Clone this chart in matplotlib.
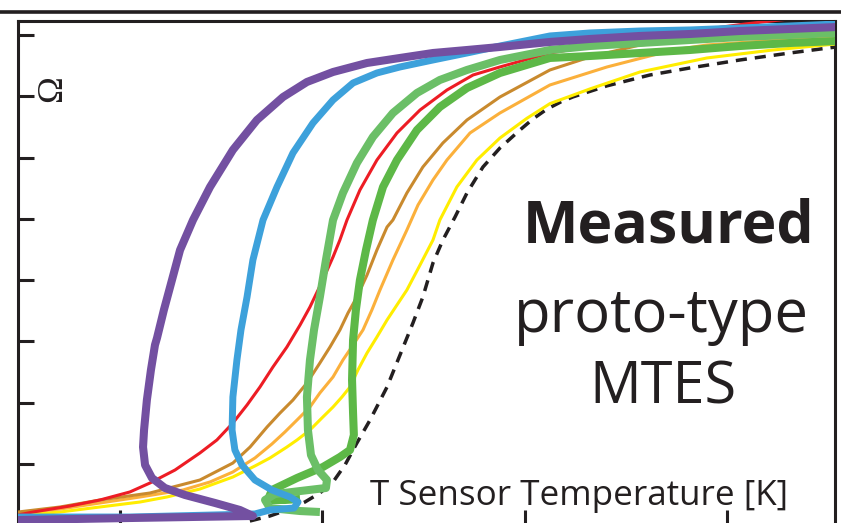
import matplotlib
matplotlib.use("Agg")
import matplotlib.pyplot as plt
from matplotlib.lines import Line2D

# ---- data (arbitrary units: x ticks at 1..4, y ticks at 0..7) ----
x_ticks = [1, 2, 3, 4]
y_ticks = [0, 1, 2, 3, 4, 5, 6, 7]

dash_x = [1.642, 1.741, 1.840, 1.914, 1.988, 2.053, 2.112, 2.171, 2.236, 2.320, 2.384, 2.448, 2.497, 2.547,
          2.596, 2.656, 2.715, 2.794, 2.878, 2.977, 3.041, 3.110, 3.180, 3.239, 3.407, 3.619, 3.817, 4.064,
          4.311, 4.539]
dash_y = [-0.930, -0.848, -0.734, -0.620, -0.473, -0.293, -0.016, 0.343, 0.718, 1.257, 1.779, 2.301, 2.725, 3.280,
          3.655, 4.030, 4.422, 4.846, 5.156, 5.450, 5.630, 5.790, 5.910, 5.990, 6.170, 6.347, 6.462, 6.592,
          6.706, 6.804]

yellow_x = [0.496, 0.704, 0.901, 1.099, 1.232, 1.395, 1.558, 1.667, 1.741, 1.825, 1.875, 1.939, 1.998, 2.053,
            2.097, 2.137, 2.176, 2.221, 2.270, 2.320, 2.369, 2.418, 2.483, 2.547, 2.581, 2.665, 2.764, 2.878,
            3.011, 3.125, 3.323, 3.570, 3.901, 4.227, 4.539]
yellow_y = [-0.832, -0.783, -0.701, -0.620, -0.538, -0.408, -0.212, -0.032, 0.098, 0.277, 0.392, 0.555, 0.751, 0.930,
            1.093, 1.257, 1.534, 1.811, 2.073, 2.350, 2.595, 2.839, 3.247, 3.655, 3.981, 4.520, 4.960, 5.319,
            5.640, 5.880, 6.120, 6.396, 6.625, 6.755, 6.853]

orange_x = [0.496, 0.704, 0.901, 1.099, 1.311, 1.445, 1.558, 1.667, 1.751, 1.815, 1.875, 1.939, 1.988, 2.053,
            2.102, 2.152, 2.201, 2.245, 2.285, 2.349, 2.418, 2.473, 2.547, 2.616, 2.730, 2.878, 3.125, 3.407,
            3.733, 3.901, 4.539]
orange_y = [-0.799, -0.734, -0.636, -0.538, -0.424, -0.293, -0.130, 0.098, 0.327, 0.522, 0.718, 0.930, 1.159, 1.420,
            1.697, 1.942, 2.187, 2.513, 2.839, 3.329, 3.818, 4.226, 4.634, 4.960, 5.401, 5.727, 6.184, 6.478,
            6.755, 6.837, 6.984]

brown_x = [0.496, 0.704, 0.901, 1.148, 1.395, 1.558, 1.643, 1.727, 1.791, 1.855, 1.924, 1.988, 2.038, 2.087,
           2.127, 2.171, 2.221, 2.270, 2.320, 2.349, 2.418, 2.497, 2.596, 2.715, 2.878, 3.125, 3.323, 3.570,
           3.866, 4.539]
brown_y = [-0.783, -0.701, -0.587, -0.473, -0.261, 0.016, 0.277, 0.604, 0.832, 1.044, 1.322, 1.648, 1.909, 2.187,
           2.464, 2.725, 3.084, 3.492, 3.867, 3.981, 4.422, 4.846, 5.238, 5.613, 5.988, 6.429, 6.641, 6.837,
           6.918, 7.000]

red_x = [0.496, 0.570, 0.753, 0.901, 1.049, 1.148, 1.272, 1.395, 1.479, 1.558, 1.628, 1.692, 1.756, 1.825,
         1.890, 1.939, 1.998, 2.053, 2.087, 2.122, 2.186, 2.270, 2.369, 2.483, 2.616, 2.745, 2.878, 3.125,
         3.372, 3.619, 3.866, 4.089, 4.262, 4.361]
red_y = [-0.832, -0.783, -0.685, -0.587, -0.456, -0.310, -0.098, 0.180, 0.392, 0.669, 0.963, 1.257, 1.583, 1.909,
         2.268, 2.562, 2.970, 3.378, 3.655, 3.981, 4.471, 4.960, 5.401, 5.776, 6.102, 6.347, 6.478, 6.706,
         6.837, 6.967, 7.082, 7.179, 7.245, 7.277]

green_x = [4.544, 4.311, 4.064, 3.817, 3.570, 3.323, 3.125, 2.878, 2.715, 2.581, 2.468, 2.369, 2.300, 2.250,
           2.216, 2.186, 2.166, 2.152, 2.147, 2.152, 2.156, 2.137, 2.087, 2.003, 1.875, 1.751, 1.731, 1.815, 1.890]
green_y = [6.902, 6.869, 6.820, 6.755, 6.706, 6.657, 6.625, 6.380, 6.135, 5.825, 5.450, 4.960, 4.520, 3.981,
           3.492, 3.002, 2.513, 2.024, 1.371, 0.832, 0.474, 0.229, 0.114, -0.049, -0.228, -0.424, -0.587, -0.587, -0.570]

lgreen_x = [4.544, 4.311, 4.064, 3.817, 3.570, 3.323, 3.125, 2.878, 2.715, 2.581, 2.468, 2.349, 2.250, 2.171,
            2.102, 2.053, 2.018, 1.988, 1.959, 1.939, 1.924, 1.929, 1.944, 1.979, 2.023, 2.018, 1.890, 1.766,
            1.717, 1.741, 1.890, 1.988]
lgreen_y = [7.033, 7.000, 6.967, 6.918, 6.869, 6.820, 6.755, 6.592, 6.429, 6.266, 6.054, 5.727, 5.336, 4.911,
            4.422, 3.981, 3.329, 2.725, 2.187, 1.697, 1.093, 0.555, 0.147, -0.098, -0.261, -0.391, -0.441, -0.490,
            -0.587, -0.718, -0.767, -0.783]

blue_x = [4.544, 4.311, 4.064, 3.817, 3.570, 3.323, 3.125, 2.878, 2.715, 2.547, 2.384, 2.270, 2.152, 2.053,
          1.954, 1.855, 1.776, 1.707, 1.657, 1.628, 1.598, 1.578, 1.558, 1.554, 1.568, 1.603, 1.667, 1.751,
          1.840, 1.880, 1.860, 1.741, 1.667, 1.049, 0.496]
blue_y = [7.179, 7.147, 7.114, 7.082, 7.065, 7.033, 6.984, 6.820, 6.706, 6.592, 6.478, 6.380, 6.217, 5.939,
          5.564, 5.075, 4.520, 3.981, 3.329, 2.725, 2.187, 1.697, 1.093, 0.555, 0.229, -0.016, -0.261, -0.424,
          -0.538, -0.620, -0.718, -0.750, -0.815, -0.865, -0.865]

purple_x = [4.544, 4.311, 4.064, 3.817, 3.570, 3.323, 3.125, 2.878, 2.715, 2.547, 2.384, 2.221, 2.053, 1.924,
            1.806, 1.677, 1.558, 1.445, 1.361, 1.297, 1.257, 1.217, 1.183, 1.173, 1.153, 1.133, 1.119, 1.114,
            1.124, 1.158, 1.222, 1.321, 1.470, 1.593, 1.657, 1.049, 0.496]
purple_y = [7.130, 7.098, 7.065, 7.016, 6.984, 6.935, 6.886, 6.804, 6.755, 6.706, 6.625, 6.543, 6.396, 6.233,
            5.988, 5.613, 5.124, 4.520, 3.981, 3.492, 3.002, 2.513, 2.056, 1.942, 1.534, 1.044, 0.555, 0.277,
            -0.016, -0.228, -0.391, -0.505, -0.636, -0.750, -0.848, -0.881, -0.914]

INK = "#231F20"

fig = plt.figure(figsize=(8.41, 5.23), dpi=100)
ax = fig.add_axes([18 / 841, -2 / 523, 817 / 841, 504 / 523])
ax.set_xlim(0.496, 4.534)
ax.set_ylim(-0.995, 7.228)

thin = 2.2
thick = 5.8
kw = dict(solid_capstyle="butt", solid_joinstyle="round")
ax.plot(dash_x, dash_y, color=INK, lw=2.5, dashes=(3.2, 2.3), zorder=2)
ax.plot(yellow_x, yellow_y, color="#FFED00", lw=thin, zorder=3, **kw)
ax.plot(orange_x, orange_y, color="#FBB03B", lw=thin, zorder=3, **kw)
ax.plot(brown_x, brown_y, color="#C98A2E", lw=thin, zorder=3, **kw)
ax.plot(red_x, red_y, color="#ED1C24", lw=thin, zorder=3, **kw)
ax.plot(green_x, green_y, color="#5DB847", lw=thick, zorder=4, **kw)
ax.plot(lgreen_x, lgreen_y, color="#6BBF67", lw=thick, zorder=5, **kw)
ax.plot(blue_x, blue_y, color="#3DA1DB", lw=5.0, zorder=6, **kw)
ax.plot(purple_x, purple_y, color="#7350A1", lw=thick, zorder=7, **kw)

ax.set_xticks(x_ticks)
ax.set_yticks(y_ticks)
ax.set_xticklabels([])
ax.set_yticklabels([])
ax.tick_params(axis="both", direction="in", width=2.2, color=INK)
ax.tick_params(axis="y", length=11.5)
ax.tick_params(axis="x", length=10.5)
for s in ax.spines.values():
    s.set_linewidth(2.2)
    s.set_color(INK)

font = "Open Sans"
ax.text(0.796, 0.5615, "Measured", transform=ax.transAxes, ha="center", va="baseline",
        fontsize=42.5, fontweight="bold", family=font, color=INK, zorder=10)
ax.text(0.787, 0.383, "proto-type", transform=ax.transAxes, ha="center", va="baseline",
        fontsize=43, family=font, color=INK, zorder=10)
ax.text(0.789, 0.242, "MTES", transform=ax.transAxes, ha="center", va="baseline",
        fontsize=41.5, family=font, color=INK, zorder=10)
ax.text(0.431, 0.0397, "T Sensor Temperature [K]", transform=ax.transAxes, ha="left", va="baseline",
        fontsize=25.2, family=font, color=INK, zorder=10)
ax.text(0.0425, 0.866, "Ω", transform=ax.transAxes, ha="center", va="center", rotation=90,
        fontsize=26, family="Liberation Serif", color=INK, zorder=10)

fig.add_artist(Line2D([0, 1], [1 - 11.5 / 523, 1 - 11.5 / 523], color=INK, lw=2.6,
                      transform=fig.transFigure))

fig.savefig("out.png", dpi=100)
